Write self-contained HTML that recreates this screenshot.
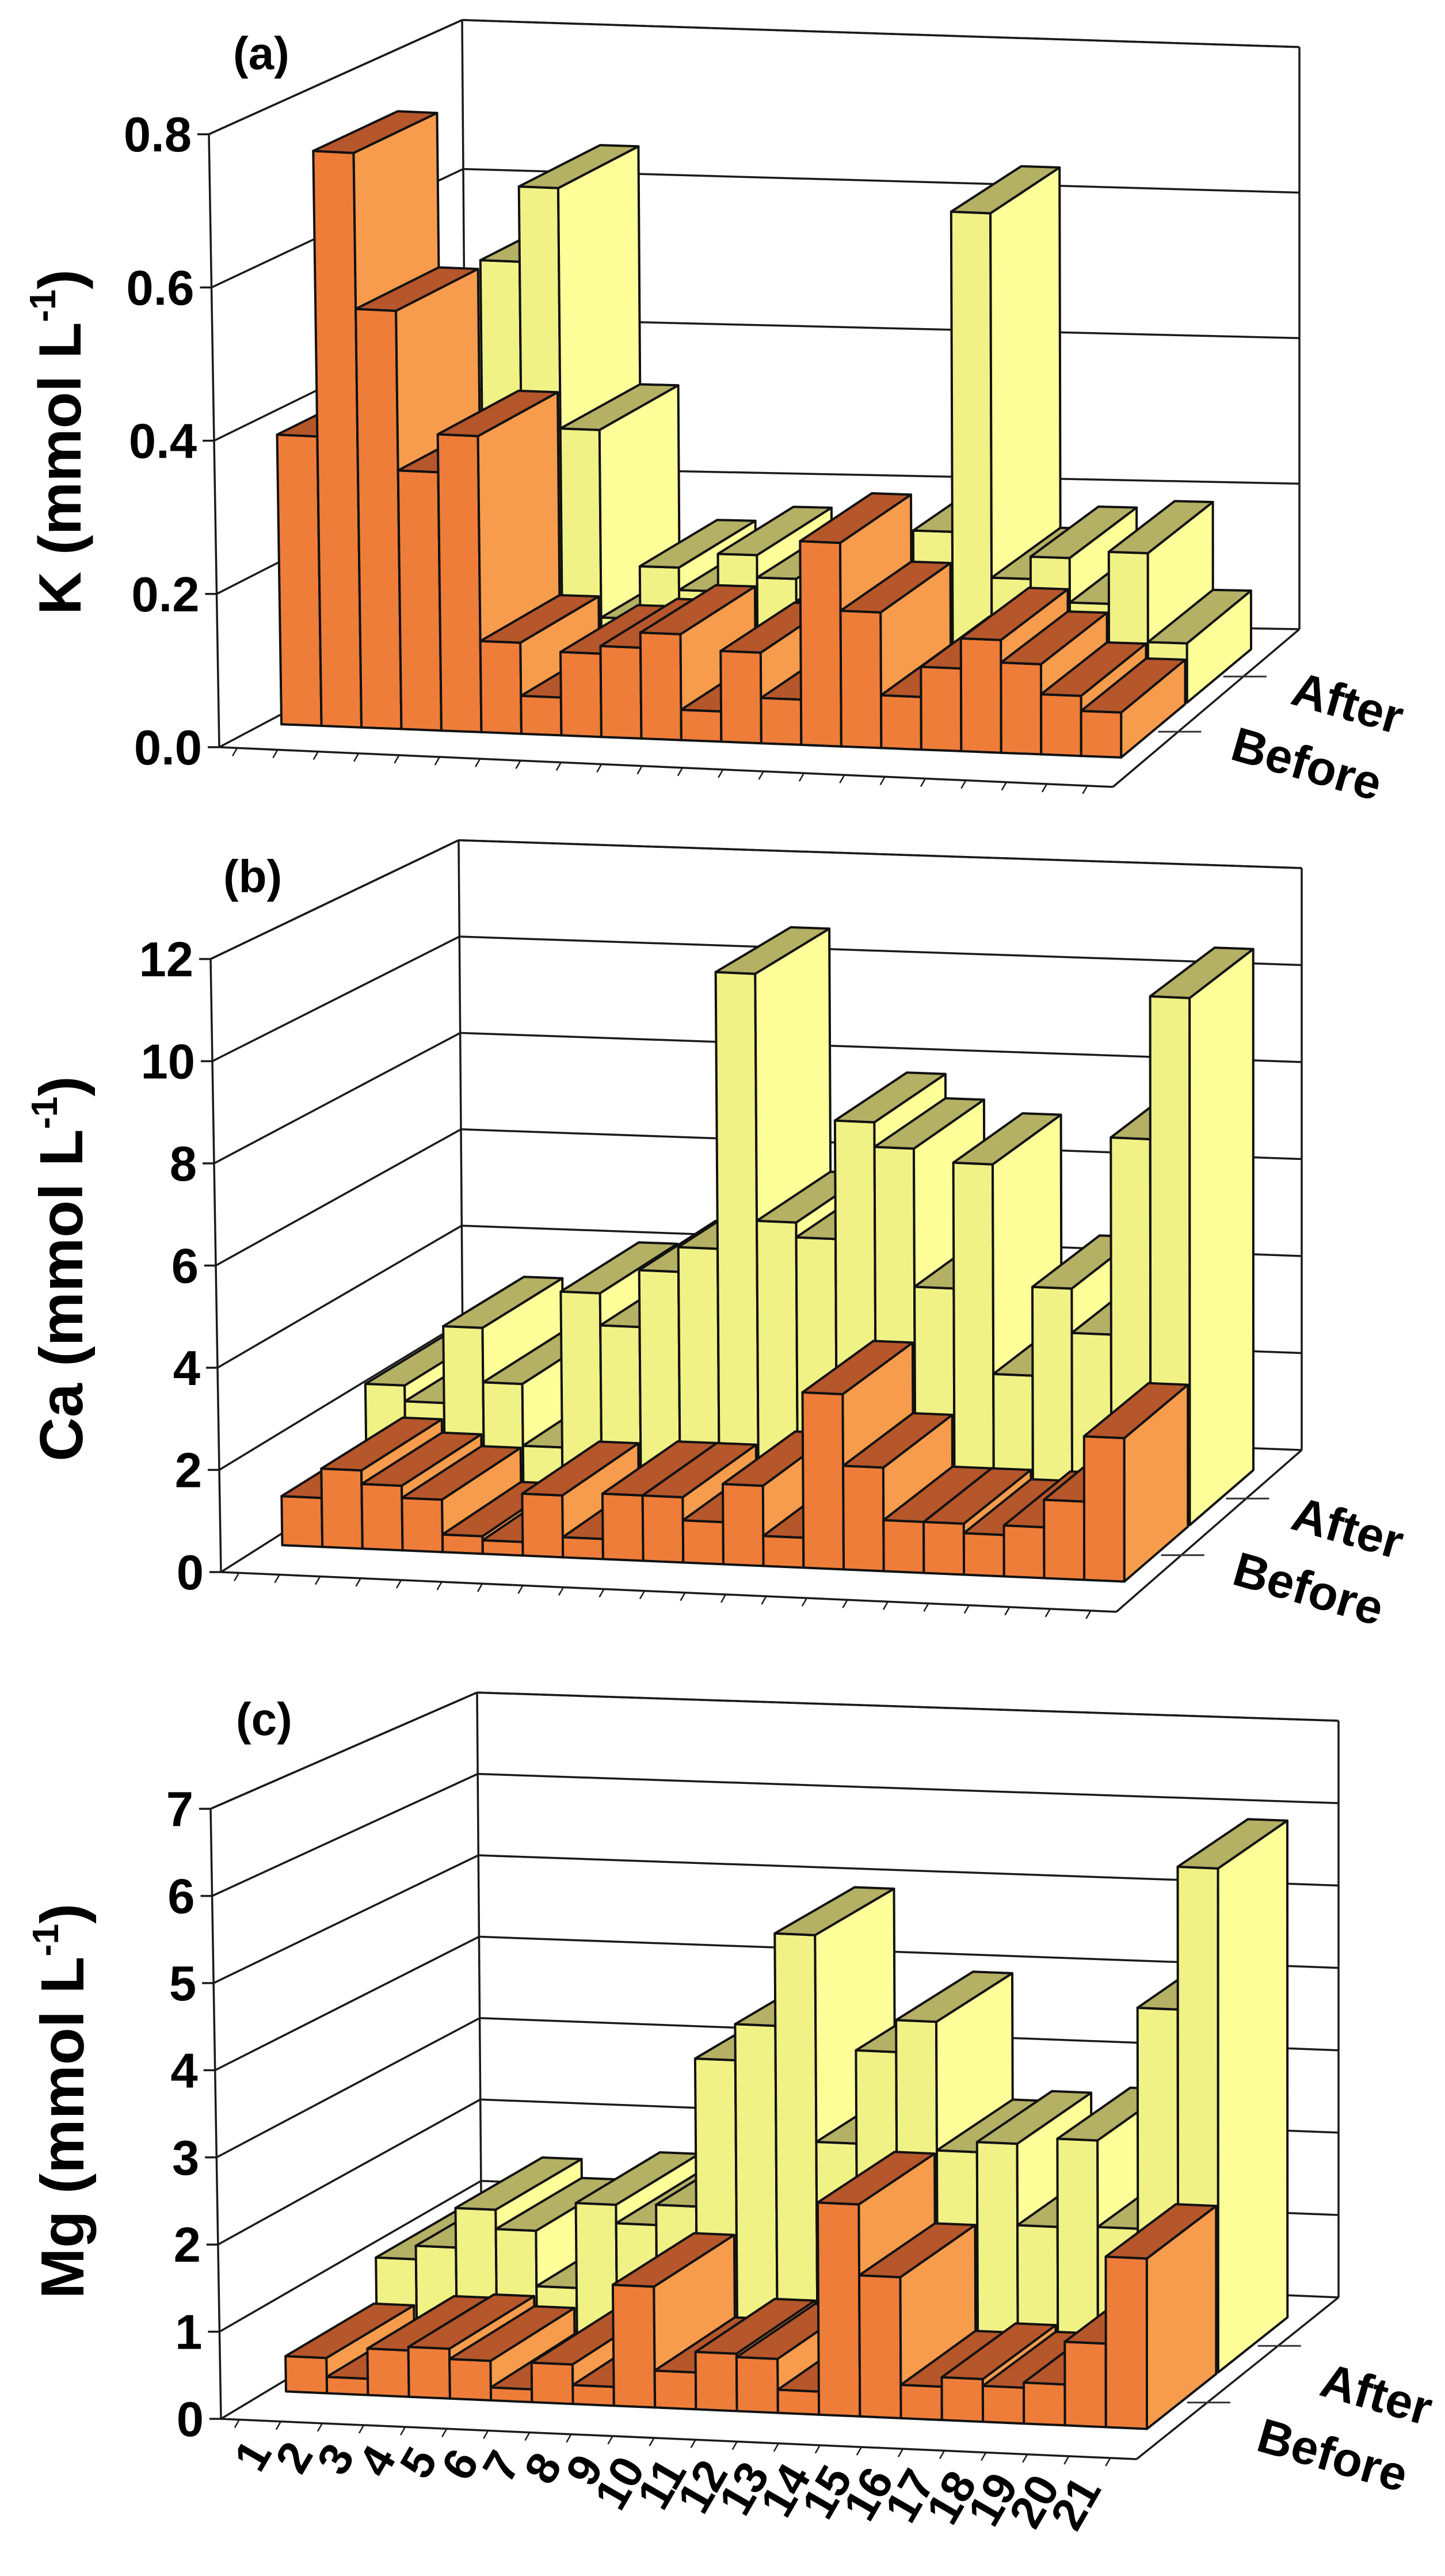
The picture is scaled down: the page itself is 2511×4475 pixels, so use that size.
<!DOCTYPE html>
<html><head><meta charset="utf-8"><style>
html,body{margin:0;padding:0;background:#fff;}
svg{display:block;}
text{font-family:"Liberation Sans",Arial,sans-serif;font-weight:bold;fill:#000;}
</style></head><body>
<svg id="fig" xmlns="http://www.w3.org/2000/svg" width="2511" height="4475" viewBox="0 0 2511 4475">
<rect x="0" y="0" width="2511" height="4475" fill="#fff"/>
<g id="panelA"></g>
<g id="panelB"></g>
<g id="panelC"></g>
<text x="405" y="120" font-size="80">(a)</text>
<text x="388" y="1550" font-size="80">(b)</text>
<text x="410" y="3014" font-size="80">(c)</text>
<text transform="translate(140,768) rotate(-90)" text-anchor="middle" font-size="104">K (mmol L<tspan font-size="64" dy="-44">-1</tspan><tspan dy="44">)</tspan></text>
<text transform="translate(143,2204) rotate(-90)" text-anchor="middle" font-size="106">Ca (mmol L<tspan font-size="64" dy="-44">-1</tspan><tspan dy="44">)</tspan></text>
<text transform="translate(145,3650) rotate(-90)" text-anchor="middle" font-size="106">Mg (mmol L<tspan font-size="64" dy="-44">-1</tspan><tspan dy="44">)</tspan></text>
</svg>
<script>
// ---- data ----
const categories = ["1","2","3","4","5","6","7","8","9","10","11","12","13","14","15","16","17","18","19","20","21"];
const seriesNames = ["Before","After"];
const kBefore = [0.38,0.755,0.55,0.34,0.39,0.12,0.05,0.11,0.12,0.14,0.04,0.12,0.06,0.27,0.18,0.07,0.11,0.15,0.12,0.08,0.06];
const kAfter  = [0.30,0.30,0.36,0.56,0.66,0.34,0.09,0.16,0.13,0.18,0.15,0.12,0.14,0.15,0.22,0.65,0.16,0.19,0.13,0.20,0.08];
const caBefore = [0.97,1.55,1.28,1.04,0.35,0.27,1.23,0.40,1.30,1.30,0.84,1.60,0.60,3.50,2.07,1.02,1.02,0.83,1.02,1.57,2.88];
const caAfter  = [2.17,1.85,3.40,2.30,1.05,4.20,3.55,4.70,5.20,10.8,5.80,5.50,7.90,7.40,4.60,7.15,2.90,4.70,3.80,7.80,10.7];
const mgBefore = [0.41,0.19,0.54,0.58,0.46,0.15,0.46,0.22,1.41,0.43,0.67,0.63,0.27,2.48,1.65,0.39,0.50,0.42,0.48,0.98,2.00];
const mgAfter  = [0.94,1.10,1.57,1.34,0.68,1.69,1.47,1.71,3.47,3.90,5.00,2.54,3.65,4.03,2.50,2.62,1.65,2.70,1.67,4.30,6.00];
const kTicks  = [0,0.2,0.4,0.6,0.8];
const kTickLabels = ["0.0","0.2","0.4","0.6","0.8"];
const caTicks = [0,2,4,6,8,10,12];
const caTickLabels = ["0","2","4","6","8","10","12"];
const mgTicks = [0,1,2,3,4,5,6,7];
const mgTickLabels = ["0","1","2","3","4","5","6","7"];

// ---- geometry ----
const NS = "http://www.w3.org/2000/svg";
const geoA = {FL:[381,1298],FR:[1934,1367],BL:[811,1070],BR:[2258,1093],sFL:1331,sFR:1310,sBL:1294,sBR:1264,hmax:0.8,leanF:18,leanB:8};
const geoB = {FL:[384,2731],FR:[1940,2800],BL:[805,2464],BR:[2262,2519],sFL:88.75,sFR:87,sBL:83.7,sBR:84.25,hmax:12,leanF:18,leanB:8};
const geoC = {FL:[384,4202],FR:[1975,4272],BL:[837,3930],BR:[2326,3991],sFL:151.4,sFR:149,sBL:141.4,sBR:143.1,hmax:7,leanF:18,leanB:8};
const U0 = 0.02, SLOT = 0.0453;
const ROWS = {Before:[0.18,0.52], After:[0.53,0.87]};
const COL = {Before:{front:"#EE7D3A",side:"#F79C4C",top:"#B5562B"}, After:{front:"#F1F286",side:"#FFFF9A",top:"#B4B064"}};

function lerp(a,b,t){return a+(b-a)*t;}
function P(g,u,v,h){
  const fx=lerp(g.FL[0],g.FR[0],u), fy=lerp(g.FL[1],g.FR[1],u);
  const bx=lerp(g.BL[0],g.BR[0],u), by=lerp(g.BL[1],g.BR[1],u);
  const x=lerp(fx,bx,v), y=lerp(fy,by,v);
  const s=lerp(lerp(g.sFL,g.sFR,u),lerp(g.sBL,g.sBR,u),v);
  const lean=(1-u)*lerp(g.leanF,g.leanB,v);
  return [x-lean*h/g.hmax, y-h*s];
}
function mk(tag,attrs,parent){const e=document.createElementNS(NS,tag);for(const k in attrs)e.setAttribute(k,attrs[k]);parent.appendChild(e);return e;}
function pts(a){return a.map(p=>p[0].toFixed(1)+","+p[1].toFixed(1)).join(" ");}
function line(parent,a,b,w,name,col){
  const e=mk("line",{x1:a[0],y1:a[1],x2:b[0],y2:b[1],stroke:col||"#1a1a1a","stroke-width":w},parent);
  
  
  return e;
}

function drawPanel(gid,g,ticks,tickLabels,before,after,withX,lbl){
  const G=document.getElementById(gid);
  ticks.forEach((t,i)=>{
    line(G,P(g,0,1,t),P(g,1,1,t),3.5,"back-gridline-"+tickLabels[i]);
    line(G,P(g,0,0,t),P(g,0,1,t),3.5,"side-gridline-"+tickLabels[i]);
    const a=P(g,0,0,t);
    line(G,[a[0]-20,a[1]],a,3.5,"y-tick-"+tickLabels[i]);
    const tx=mk("text",{x:a[0]-30,y:a[1]+30,"text-anchor":"end","font-size":85},G);
    tx.textContent=tickLabels[i];
    
    
  });
  const hm=g.hmax;
  line(G,P(g,0,0,0),P(g,0,0,hm),3.5,"y-axis-line");
  line(G,P(g,0,1,0),P(g,0,1,hm),3.5,"back-left-edge");
  line(G,P(g,1,1,0),P(g,1,1,hm),3.5,"back-right-edge");
  line(G,P(g,0,1,hm),P(g,1,1,hm),3.5,"back-top-edge");
  line(G,P(g,0,0,hm),P(g,0,1,hm),3.5,"side-top-edge");
  line(G,P(g,0,0,0),P(g,1,0,0),3.5,"floor-front-edge");
  line(G,P(g,1,0,0),P(g,1,1,0),3.5,"floor-right-edge");
  for(let k=0;k<=categories.length;k++){
    const a=P(g,U0+k*SLOT,0,0);
    line(G,a,[a[0]-8,a[1]+14],2.5,"x-tick");
  }
  [["Before",0.35],["After",0.70]].forEach(([nm,vc])=>{
    const a=P(g,1,vc,0);
    line(G,[a[0]-35,a[1]],[a[0]+40,a[1]],3,"row-tick-"+nm.toLowerCase(),"#333");
  });
  const la=lbl.after, lb=lbl.before;
  const ta=mk("text",{x:la[0],y:la[1],"font-size":84,transform:"rotate(16 "+la[0]+" "+la[1]+")"},G);
  ta.textContent="After";
  
  
  const tb=mk("text",{x:lb[0],y:lb[1],"font-size":84,transform:"rotate(16 "+lb[0]+" "+lb[1]+")"},G);
  tb.textContent="Before";
  
  
  [["After",after],["Before",before]].forEach(([nm,vals])=>{
    const [v0,v1]=ROWS[nm], c=COL[nm];
    vals.forEach((h,k)=>{
      const u0=U0+k*SLOT, u1=u0+SLOT;
      const bg=mk("g",{},G);
      
      
      const st={"stroke":"#111","stroke-width":4,"stroke-linejoin":"round"};
      const f=mk("polygon",Object.assign({points:pts([P(g,u0,v0,0),P(g,u1,v0,0),P(g,u1,v0,h),P(g,u0,v0,h)]),fill:c.front},st),bg);
      
      
      const sd=mk("polygon",Object.assign({points:pts([P(g,u1,v0,0),P(g,u1,v1,0),P(g,u1,v1,h),P(g,u1,v0,h)]),fill:c.side},st),bg);
      
      
      const tp=mk("polygon",Object.assign({points:pts([P(g,u0,v0,h),P(g,u1,v0,h),P(g,u1,v1,h),P(g,u0,v1,h)]),fill:c.top},st),bg);
      
      
    });
  });
  if(withX){
    categories.forEach((c,k)=>{
      const a=P(g,U0+(k+0.5)*SLOT,0,0);
      const x=a[0]+22, y=a[1]+55;
      const t=mk("text",{x:x,y:y,"text-anchor":"end","font-size":80,transform:"rotate(-60 "+x+" "+y+")"},G);
      t.textContent=c;
      
      
    });
  }
}
drawPanel("panelA",geoA,kTicks,kTickLabels,kBefore,kAfter,false,{after:[2240,1222],before:[2135,1318]});
drawPanel("panelB",geoB,caTicks,caTickLabels,caBefore,caAfter,false,{after:[2240,2655],before:[2138,2751]});
drawPanel("panelC",geoC,mgTicks,mgTickLabels,mgBefore,mgAfter,true,{after:[2290,4160],before:[2180,4256]});
</script>
</body></html>
